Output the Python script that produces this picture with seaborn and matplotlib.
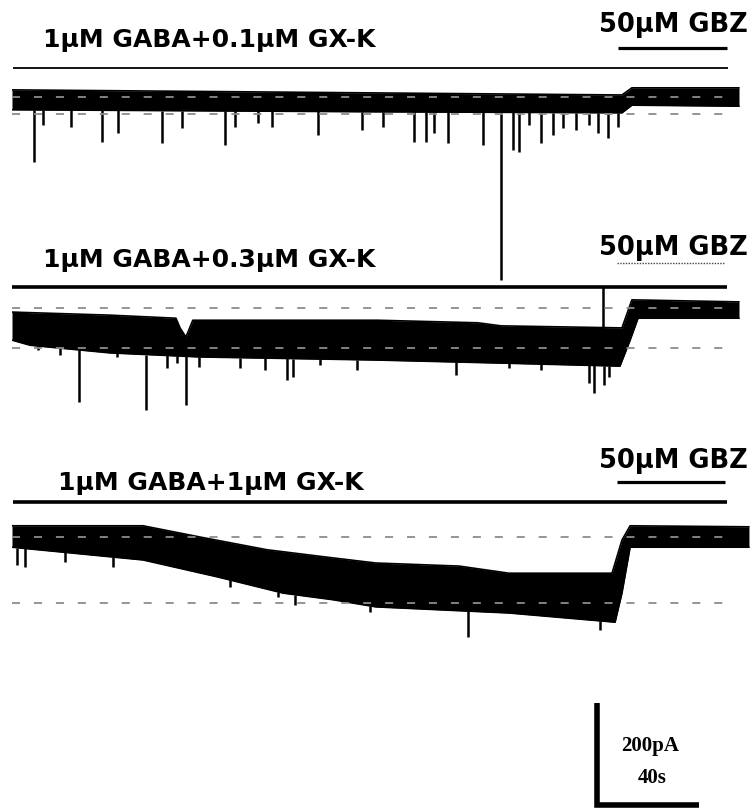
import numpy as np
import pandas as pd
import matplotlib.pyplot as plt
import seaborn as sns

PX_PER_S = 2.55
PX_PER_PA = 0.51
W, H = 752, 809
X0 = 12  # px where the recordings start

# --- trace 1: 1uM GABA + 0.1uM GX-K (pA relative to baseline) ---
t1 = [0, 142.7, 239.2, 243.1, 285.1]
up1 = [14, 8, 4, 18, 18]
lo1 = [-25, -29, -31, -16, -18]
spk_t1 = [8.6, 12.2, 23.1, 35.3, 41.6, 58.8, 66.7, 83.5, 87.5, 96.5, 102.0, 120.0,
          137.3, 145.5, 157.6, 162.4, 165.5, 171.0, 184.7, 191.8, 196.5, 198.8,
          202.7, 207.5, 212.2, 216.1, 221.2, 226.3, 229.8, 233.7, 237.6]
spk_a1 = [-127, -55, -59, -88, -71, -90, -61, -94, -59, -51, -59, -75,
          -65, -59, -88, -88, -71, -90, -94, -359, -104, -108,
          -55, -90, -75, -61, -65, -55, -71, -80, -59]
max1 = -33

# --- trace 2: 1uM GABA + 0.3uM GX-K ---
t2 = [0, 38.4, 64.3, 65.9, 68.2, 70.9, 143.5, 182.7, 191.8, 239.2, 243.1, 285.1]
up2 = [-8, -14, -20, -39, -57, -24, -24, -29, -35, -39, 16, 12]
t2_lo = [0, 7.1, 38.4, 73.7, 142.7, 191.8, 238.4, 242.4, 245.5, 285.1]
lo2 = [-63, -73, -88, -96, -102, -108, -114, -63, -20, -20]
spk_t2 = [10.2, 18.8, 26.3, 41.2, 52.5, 60.8, 64.7, 68.2, 73.3, 89.4, 99.2, 107.8,
          110.2, 120.8, 135.3, 174.1, 194.9, 207.5, 226.3, 228.2, 232.2, 234.1, 231.8]
spk_a2 = [-82, -92, -184, -96, -200, -118, -108, -190, -116, -118, -122, -141,
          -135, -112, -122, -131, -118, -122, -147, -167, -151, -135, 41]
max2 = -78

# --- trace 3: 1uM GABA + 1uM GX-K ---
t3 = [0, 51.4, 73.7, 100.0, 125.9, 142.7, 175.3, 194.9, 235.3, 239.2, 242.4, 289.0]
up3 = [22, 22, 0, -25, -41, -51, -57, -71, -71, -6, 22, 20]
t3_lo = [0, 51.4, 80.4, 106.3, 125.9, 142.7, 194.9, 236.5, 239.2, 242.4, 289.0]
lo3 = [-20, -45, -78, -110, -123, -137, -149, -167, -110, -20, -20]
spk_t3 = [2.0, 5.1, 20.8, 39.6, 85.5, 104.3, 111.0, 140.4, 178.8, 230.6]
spk_a3 = [-55, -59, -49, -59, -98, -118, -133, -147, -196, -182]
max3 = -129

titles = ["1\u03bcM GABA+0.1\u03bcM GX-K", "1\u03bcM GABA+0.3\u03bcM GX-K", "1\u03bcM GABA+1\u03bcM GX-K"]
gbz_label = "50\u03bcM GBZ"
gaba_on, gaba_off = [0.4, 0.0, 0.4], [280.8, 280.4, 280.4]
gbz_on, gbz_off = [237.6, 237.3, 237.3], [280.4, 279.6, 279.6]

traces = [
    (t1, up1, t1, lo1, spk_t1, spk_a1, max1),
    (t2, up2, t2_lo, lo2, spk_t2, spk_a2, max2),
    (t3, up3, t3_lo, lo3, spk_t3, spk_a3, max3),
]

# layout (px from top of the figure)
y_base = [97, 308, 537]
y_line = [68, 287, 502]
y_gbz = [48, 263, 482]
y_title = [47, 267, 490]
y_gbzt = [32, 255, 468]
x_title = [43, 43, 58]
line_w = [1.3, 2.6, 2.6]

sns.set_theme(style="white")
plt.rcParams["lines.scale_dashes"] = False
font = ["DejaVu Sans"]

fig = plt.figure(figsize=(W / 100, H / 100), dpi=100)
xmax = (W - X0) / PX_PER_S


def px2t(x):
    return (x - X0) / PX_PER_S


for i, (tu, up, tl, lo, st, sa, mx) in enumerate(traces):
    yb = y_base[i]
    ax = fig.add_axes([X0 / W, 0, (W - X0) / W, 1])
    ax.set_xlim(0, xmax)
    ax.set_ylim((yb - H) / PX_PER_PA, yb / PX_PER_PA)
    ax.set_axis_off()
    ax.patch.set_alpha(0)

    grid = np.union1d(tu, tl)
    upper = np.interp(grid, tu, up)
    lower = np.interp(grid, tl, lo)
    ax.fill_between(grid, lower, upper, color="black", lw=0)
    df = pd.DataFrame({"t": grid, "up": upper, "lo": lower})
    sns.lineplot(data=df, x="t", y="up", color="black", lw=1.2, ax=ax)
    sns.lineplot(data=df, x="t", y="lo", color="black", lw=1.2, ax=ax)

    base_at = np.interp(st, tl, lo)
    top_at = np.interp(st, tu, up)
    start = [b if a < 0 else u for a, b, u in zip(sa, base_at, top_at)]
    ax.vlines(st, start, sa, color="black", lw=1.8)

    # baseline / peak markers
    for lvl in (0, mx):
        ax.plot([0, px2t(736)], [lvl, lvl], color="#8c8c8c", lw=1.3,
                dashes=(5.8, 10), zorder=5)

    # application bars
    ax.hlines((yb - y_line[i]) / PX_PER_PA, gaba_on[i], gaba_off[i],
              color="black", lw=line_w[i])
    if i == 1:
        ax.hlines((yb - y_gbz[i]) / PX_PER_PA, gbz_on[i], gbz_off[i],
                  color="#444444", lw=1.0, linestyles=(0, (1, 1)))
    else:
        ax.hlines((yb - y_gbz[i]) / PX_PER_PA, gbz_on[i], gbz_off[i],
                  color="black", lw=2.3)

    ax.text(px2t(x_title[i]), (yb - y_title[i]) / PX_PER_PA, titles[i],
            ha="left", va="baseline", fontsize=18, fontweight="bold",
            family=font, color="black")
    ax.text(px2t(748), (yb - y_gbzt[i]) / PX_PER_PA, gbz_label,
            ha="right", va="baseline", fontsize=18.5, fontweight="bold",
            family=font, color="black")

    if i == 2:
        # scale bar 40 s x 200 pA
        sx = px2t(597)
        sy = (yb - 805) / PX_PER_PA
        ax.plot([sx, sx, sx + 40], [sy + 200, sy, sy], color="black", lw=4,
                solid_joinstyle="miter", solid_capstyle="butt")
        ax.text(px2t(650), (yb - 746) / PX_PER_PA, "200pA", ha="center",
                va="center", fontsize=15, fontweight="bold",
                family="Liberation Serif", color="black")
        ax.text(px2t(652), (yb - 778) / PX_PER_PA, "40s", ha="center",
                va="center", fontsize=15, fontweight="bold",
                family="Liberation Serif", color="black")

fig.savefig("out.png", dpi=100, facecolor="white")
